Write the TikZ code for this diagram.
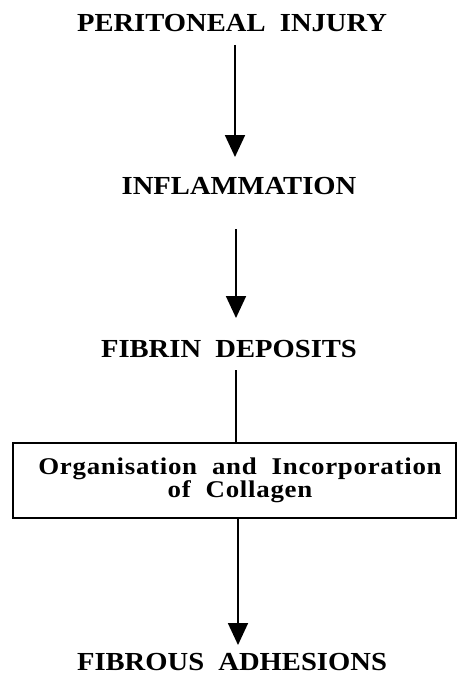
\documentclass[tikz,border=0pt]{standalone}
\usepackage{fontspec}
\setmainfont{Liberation Serif}
\usetikzlibrary{arrows.meta}
\begin{document}
\begin{tikzpicture}[x=1pt,y=-1pt,
  lbl/.style={font=\fontsize{26}{30}\selectfont\bfseries\addfontfeatures{FakeStretch=1.1}, anchor=base, inner sep=0pt},
  boxtxt/.style={font=\fontsize{24}{23}\selectfont\bfseries\addfontfeatures{FakeStretch=1.12,LetterSpace=3}, align=center, anchor=base, inner sep=0pt},
  conn/.style={line width=1.8pt},
  arr/.style={conn, -{Triangle[width=20pt,length=22pt]}}]
\useasboundingbox (0,0) rectangle (457,685);
\node[lbl] (a) at (232,32) {PERITONEAL\ \ INJURY};
\node[lbl] (b) at (239,194) {INFLAMMATION};
\node[lbl] (c) at (229,357) {FIBRIN\ \ DEPOSITS};
\node[lbl] (e) at (232,670) {FIBROUS\ \ ADHESIONS};
\draw[line width=1.4pt] (13,443) rectangle (456,518);
\node[boxtxt] (d) at (240,497) {Organisation\ \ and\ \ Incorporation\\of\ \ Collagen};
\coordinate (a1) at (235,45);
\coordinate (b1) at (235,157);
\coordinate (b2) at (236,229);
\coordinate (c2) at (236,318);
\coordinate (c3) at (236,370);
\coordinate (d1) at (236,443);
\coordinate (d2) at (238,518);
\coordinate (e1) at (238,645);
\draw[arr] (a1) -- (b1);
\draw[arr] (b2) -- (c2);
\draw[conn] (c3) -- (d1);
\draw[arr] (d2) -- (e1);
\end{tikzpicture}
\end{document}
